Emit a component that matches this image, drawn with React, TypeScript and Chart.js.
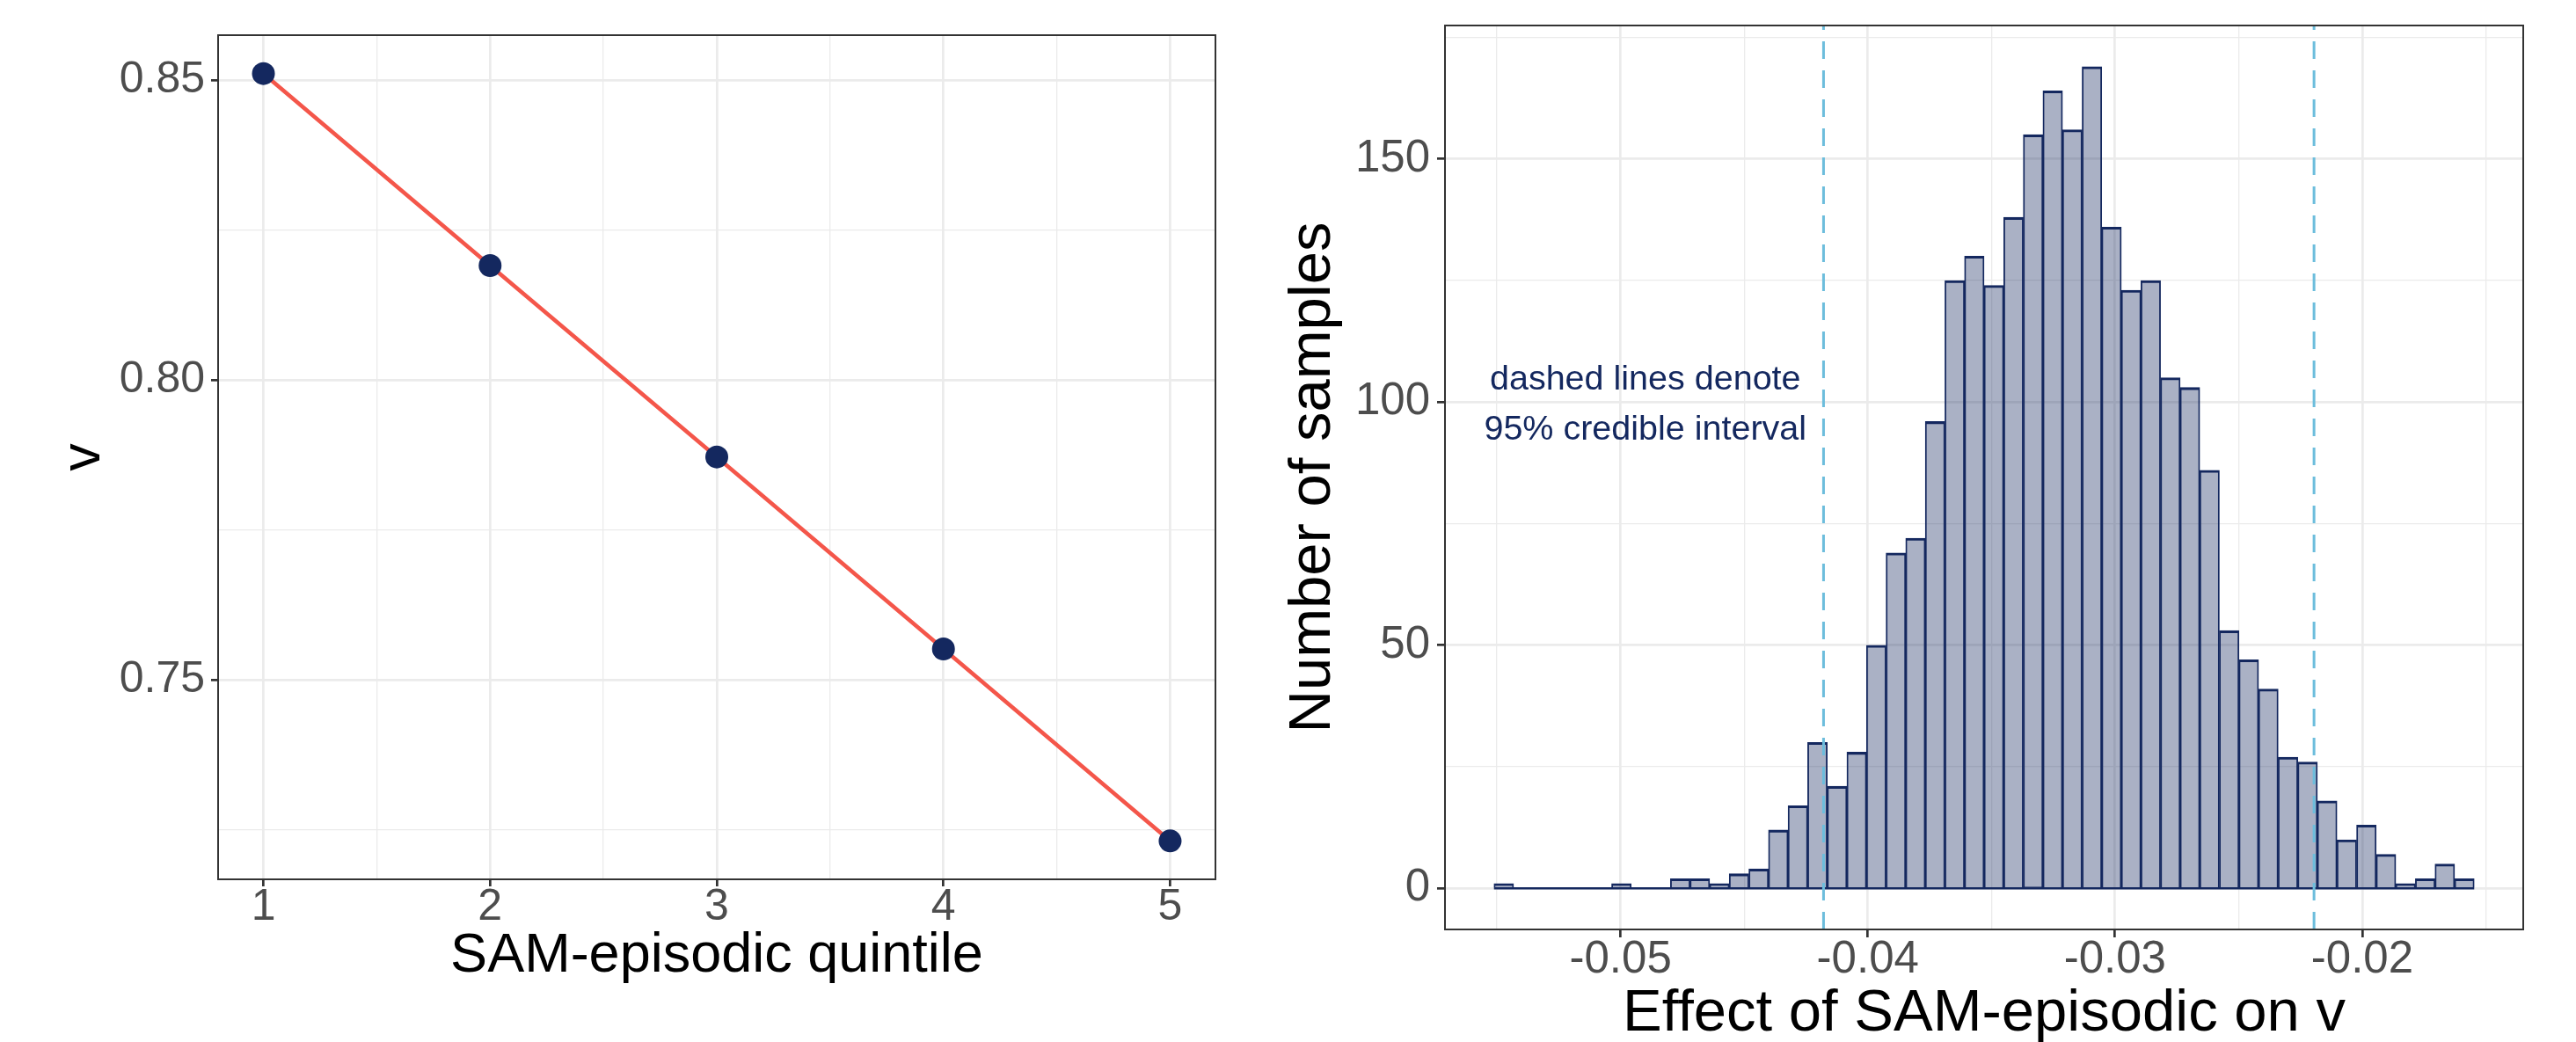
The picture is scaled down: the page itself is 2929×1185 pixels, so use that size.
import React, { useEffect, useRef } from "react";
import { Chart, registerables } from "chart.js";

Chart.register(...registerables);

const FONT = "'Liberation Sans', Arial, Helvetica, sans-serif";
const NAVY = "#14285F";
const NAVY_FILL = "rgba(20, 40, 95, 0.36)";
const RED = "#F4564A";
const SKY = "#6CBDDC";
const GRID = "#EBEBEB";
const DARK = "#333333";
const TICK_TEXT = "#4D4D4D";

Chart.defaults.font.family = FONT;

// ---------- left panel: v by SAM-episodic quintile ----------
const quintiles = [1, 2, 3, 4, 5];
const vByQuintile = [0.8511, 0.8191, 0.7872, 0.7552, 0.7232];
const quintileGrid = [1, 1.5, 2, 2.5, 3, 3.5, 4, 4.5, 5];
const quintileLabels = [1, 2, 3, 4, 5];
const vGrid = [0.725, 0.75, 0.775, 0.8, 0.825, 0.85];
const vLabels = [0.75, 0.8, 0.85];

// ---------- right panel: posterior histogram ----------
const binStart = -0.05512;
const binWidth = 0.000793;
const sampleCounts = [
  1, 0, 0, 0, 0, 0, 1, 0, 0, 2,
  2, 1, 3, 4, 12, 17, 30, 21, 28, 50,
  69, 72, 96, 125, 130, 124, 138, 155, 164, 156,
  169, 136, 123, 125, 105, 103, 86, 53, 47, 41,
  27, 26, 18, 10, 13, 7, 1, 2, 5, 2,
];
const credibleBounds = [-0.04179, -0.02195];
const effectGrid = [-0.055, -0.05, -0.045, -0.04, -0.035, -0.03, -0.025, -0.02, -0.015];
const effectLabels = [-0.05, -0.04, -0.03, -0.02];
const countGrid = [0, 25, 50, 75, 100, 125, 150, 175];
const countLabels = [0, 50, 100, 150];
const noteLines = ["dashed lines denote", "95% credible interval"];
const noteAt = { x: -0.049, y: 100 };

const has = (list: number[], v: number) => list.some((t) => Math.abs(t - v) < 1e-9);
const expand = (lo: number, hi: number) => {
  const d = (hi - lo) * 0.05;
  return [lo - d, hi + d];
};

type AxisSpec = {
  min: number;
  max: number;
  grid: number[];
  labels: number[];
  fmt: (v: number) => string;
  tickFont: number;
  tickLen: number;
  tickPad: number;
  title: string;
  titleFont: number;
  titlePad: number;
  size: number;
  horizontal: boolean;
};

function axis(s: AxisSpec): any {
  return {
    type: "linear",
    min: s.min,
    max: s.max,
    bounds: "data",
    offset: false,
    afterBuildTicks: (scale: any) => {
      scale.ticks = s.grid.map((v) => ({ value: v }));
    },
    afterFit: (scale: any) => {
      if (s.horizontal) scale.height = s.size;
      else scale.width = s.size;
      scale.paddingLeft = 0;
      scale.paddingRight = 0;
      scale.paddingTop = 0;
      scale.paddingBottom = 0;
    },
    grid: {
      offset: false,
      drawOnChartArea: true,
      drawTicks: true,
      tickLength: s.tickLen,
      color: GRID,
      lineWidth: (ctx: any) => (ctx.tick && has(s.labels, ctx.tick.value) ? 2.7 : 1.3),
      tickColor: (ctx: any) => (ctx.tick && has(s.labels, ctx.tick.value) ? DARK : "rgba(0,0,0,0)"),
      tickWidth: 2.7,
    },
    border: { display: false },
    ticks: {
      autoSkip: false,
      maxRotation: 0,
      minRotation: 0,
      padding: s.tickPad,
      color: TICK_TEXT,
      font: { family: FONT, size: s.tickFont, lineHeight: 1.2 },
      callback: (v: any) => (has(s.labels, Number(v)) ? s.fmt(Number(v)) : ""),
    },
    title: {
      display: true,
      text: s.title,
      color: "#000000",
      font: { family: FONT, size: s.titleFont, lineHeight: 1.2 },
      padding: s.horizontal ? { top: 0, bottom: s.titlePad } : { top: s.titlePad, bottom: 0 },
    },
  };
}

const panelBorder = {
  id: "panelBorder",
  afterDraw(chart: any) {
    const { ctx, chartArea: a } = chart;
    ctx.save();
    ctx.strokeStyle = DARK;
    ctx.lineWidth = 2;
    ctx.strokeRect(a.left, a.top, a.right - a.left, a.bottom - a.top);
    ctx.restore();
  },
};

const notePlugin = {
  id: "noteText",
  afterDatasetsDraw(chart: any) {
    const { ctx, scales } = chart;
    const x = scales.x.getPixelForValue(noteAt.x);
    const y = scales.y.getPixelForValue(noteAt.y);
    ctx.save();
    ctx.font = `39.5px ${FONT}`;
    ctx.fillStyle = NAVY;
    ctx.textAlign = "center";
    ctx.textBaseline = "alphabetic";
    ctx.fillText(noteLines[0], x, y - 14.3);
    ctx.fillText(noteLines[1], x, y + 42.4);
    ctx.restore();
  },
};

function LeftPanel() {
  const ref = useRef<HTMLCanvasElement>(null);
  useEffect(() => {
    const [yMin, yMax] = expand(Math.min(...vByQuintile), Math.max(...vByQuintile));
    const [xMin, xMax] = expand(quintiles[0], quintiles[quintiles.length - 1]);
    const chart = new Chart(ref.current as HTMLCanvasElement, {
      type: "line",
      data: {
        datasets: [
          {
            data: quintiles.map((q, i) => ({ x: q, y: vByQuintile[i] })),
            borderColor: RED,
            borderWidth: 4.6,
            pointRadius: 13,
            pointHoverRadius: 13,
            pointBackgroundColor: NAVY,
            pointBorderWidth: 0,
            tension: 0,
            fill: false,
          },
        ],
      },
      options: {
        responsive: false,
        animation: false,
        devicePixelRatio: 1,
        events: [],
        layout: { padding: { left: 0, top: 40, right: 38, bottom: 0 } },
        plugins: { legend: { display: false }, tooltip: { enabled: false } },
        scales: {
          x: axis({
            min: xMin, max: xMax, grid: quintileGrid, labels: quintileLabels,
            fmt: (v) => String(v), tickFont: 50, tickLen: 8, tickPad: -5.5,
            title: "SAM-episodic quintile", titleFont: 63, titlePad: 60, size: 185, horizontal: true,
          }),
          y: axis({
            min: yMin, max: yMax, grid: vGrid, labels: vLabels,
            fmt: (v) => v.toFixed(2), tickFont: 50, tickLen: 8, tickPad: 7,
            title: "v", titleFont: 63, titlePad: 57.4, size: 248, horizontal: false,
          }),
        },
      } as any,
      plugins: [panelBorder],
    });
    return () => chart.destroy();
  }, []);
  return (
    <canvas
      ref={ref}
      width={1420}
      height={1185}
      style={{ position: "absolute", left: 0, top: 0, width: 1420, height: 1185 }}
    />
  );
}

function RightPanel() {
  const ref = useRef<HTMLCanvasElement>(null);
  useEffect(() => {
    const histEnd = binStart + binWidth * sampleCounts.length;
    const binCenters = sampleCounts.map((_, i) => binStart + binWidth * (i + 0.5));
    const [xMin, xMax] = expand(binStart, histEnd);
    const [yMin, yMax] = expand(0, Math.max(...sampleCounts));
    const chart = new Chart(ref.current as HTMLCanvasElement, {
      type: "bar",
      data: {
        datasets: [
          {
            type: "bar",
            data: binCenters.map((x, i) => ({ x, y: sampleCounts[i] })),
            backgroundColor: NAVY_FILL,
            borderColor: NAVY,
            borderWidth: { top: 2.4, left: 1.2, right: 1.2, bottom: 0 },
            borderSkipped: false,
            barPercentage: 1,
            categoryPercentage: 1,
            order: 3,
          },
          {
            type: "line",
            data: [
              { x: binStart, y: 0 },
              { x: histEnd, y: 0 },
            ],
            borderColor: NAVY,
            borderWidth: 2.4,
            pointRadius: 0,
            order: 2,
          },
          ...credibleBounds.map((b) => ({
            type: "line",
            data: [
              { x: b, y: yMin },
              { x: b, y: yMax },
            ],
            borderColor: SKY,
            borderWidth: 3,
            borderDash: [20, 13],
            pointRadius: 0,
            order: 1,
          })),
        ],
      } as any,
      options: {
        responsive: false,
        animation: false,
        devicePixelRatio: 1,
        events: [],
        layout: { padding: { left: 0, top: 29, right: 60, bottom: 0 } },
        plugins: { legend: { display: false }, tooltip: { enabled: false } },
        scales: {
          x: axis({
            min: xMin, max: xMax, grid: effectGrid, labels: effectLabels,
            fmt: (v) => v.toFixed(2), tickFont: 51, tickLen: 9, tickPad: -4.5,
            title: "Effect of SAM-episodic on v", titleFont: 67, titlePad: -9, size: 128, horizontal: true,
          }),
          y: axis({
            min: yMin, max: yMax, grid: countGrid, labels: countLabels,
            fmt: (v) => String(v), tickFont: 51, tickLen: 9, tickPad: 8,
            title: "Number of samples", titleFont: 67, titlePad: 33.6, size: 223, horizontal: false,
          }),
        },
      } as any,
      plugins: [panelBorder, notePlugin],
    });
    return () => chart.destroy();
  }, []);
  return (
    <canvas
      ref={ref}
      width={1509}
      height={1185}
      style={{ position: "absolute", left: 1420, top: 0, width: 1509, height: 1185 }}
    />
  );
}

export default function App() {
  return (
    <div
      style={{
        position: "absolute",
        left: 0,
        top: 0,
        width: 2929,
        height: 1185,
        background: "#ffffff",
        overflow: "hidden",
      }}
    >
      <LeftPanel />
      <RightPanel />
    </div>
  );
}
